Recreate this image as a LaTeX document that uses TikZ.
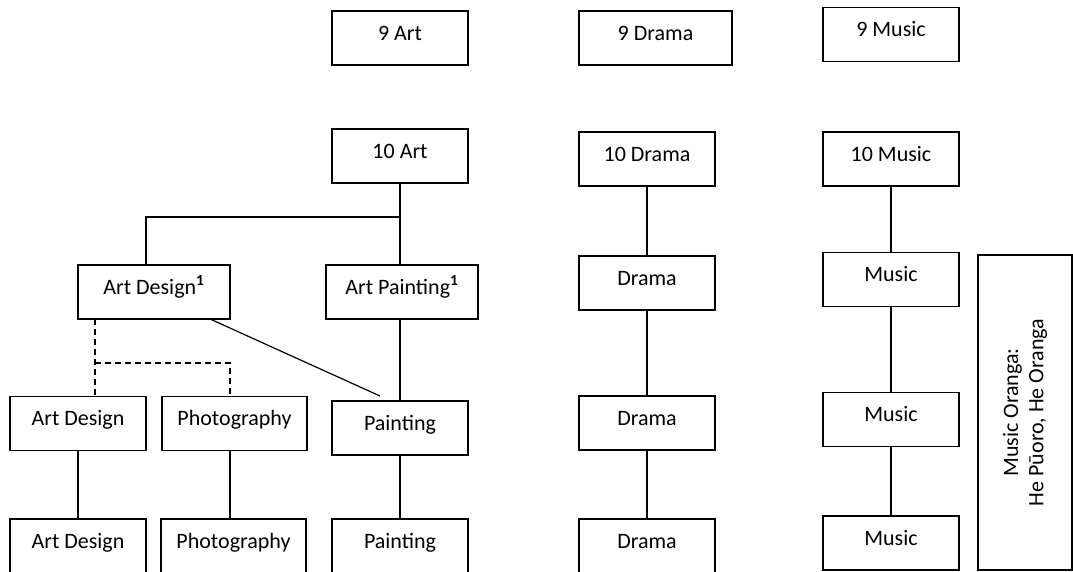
\documentclass[tikz,border=0pt]{standalone}
\usepackage{fontspec}
\setmainfont{Carlito}
\begin{document}
\begin{tikzpicture}[x=0.75pt,y=-0.75pt,
  box/.style={draw=black, line width=0.9pt, inner ysep=0pt, text height=21.75pt, text depth=18.75pt,
    minimum width=102pt, font=\fontsize{16.5pt}{20pt}\selectfont},
  wbox/.style={box, minimum width=114pt},
  pbox/.style={box, minimum width=108.75pt},
  conn/.style={line width=0.9pt},
  dconn/.style={line width=0.9pt, dash pattern=on 4.5pt off 3pt}]
\useasboundingbox (0,0) rectangle (1073,571);
\clip (0,0) rectangle (1073,571);
% grade 9
\node[box] (a9) at (400,38) {9 Art};
\node[box, minimum width=114.75pt] (d9) at (655.5,38) {9 Drama};
\node[box] (m9) at (891,34.5) {9 Music};
% grade 10
\node[box] (a10) at (400,156) {10 Art};
\node[box] (d10) at (647,159) {10 Drama};
\node[box] (m10) at (891,159) {10 Music};
% grade 11
\node[wbox] (ad1) at (154,292) {Art Design\textsuperscript{\textbf{1}}};
\node[wbox] (ap1) at (402,292) {Art Painting\textsuperscript{\textbf{1}}};
\node[box] (d2) at (647,283) {Drama};
\node[box] (m2) at (891,279.5) {Music};
% grade 12
\node[box] (ad2) at (78,423.5) {Art Design};
\node[pbox] (ph2) at (234.5,423.5) {Photography};
\node[box] (pa2) at (400,428) {Painting};
\node[box] (d3) at (647,423) {Drama};
\node[box] (m3) at (891,419.5) {Music};
% grade 13
\node[box] (ad3) at (78,546) {Art Design};
\node[pbox] (ph3) at (233.5,546) {Photography};
\node[box] (pa3) at (400,546) {Painting};
\node[box] (d4) at (647,546) {Drama};
\node[box] (m4) at (891,543) {Music};
% music oranga
\node[draw=black, line width=0.9pt, rotate=90, minimum width=236.25pt, minimum height=70.5pt,
  align=center, font=\fontsize{16.5pt}{19pt}\selectfont] (mo) at (1025,412.5) {Music Oranga:\\He Pūoro, He Oranga};
% coordinates
\coordinate (j) at (400,217);
\coordinate (adin) at (146,265);
\coordinate (dgs) at (210,319);
\coordinate (dge) at (380,396);
\coordinate (dsa) at (95,319);
\coordinate (dsb) at (95,363);
\coordinate (dad) at (95,396);
\coordinate (dpt) at (230,396);
% art connectors
\draw[conn] (a10.south) -- (j) -| (adin);
\draw[conn] (j) -- (ap1.north -| j);
\draw[conn] (pa2.north |- ap1.south) -- (pa2.north);
\draw[conn] (dgs) -- (dge);
\draw[dconn] (dsa) -- (dad);
\draw[dconn] (dsb) -| (dpt);
\draw[conn] (ad2.south) -- (ad3.north);
\draw[conn] (ph2.south -| dpt) -- (ph3.north -| dpt);
\draw[conn] (pa2.south) -- (pa3.north);
% drama
\draw[conn] (d10.south) -- (d2.north);
\draw[conn] (d2.south) -- (d3.north);
\draw[conn] (d3.south) -- (d4.north);
% music
\draw[conn] (m10.south) -- (m2.north);
\draw[conn] (m2.south) -- (m3.north);
\draw[conn] (m3.south) -- (m4.north);
\end{tikzpicture}
\end{document}
